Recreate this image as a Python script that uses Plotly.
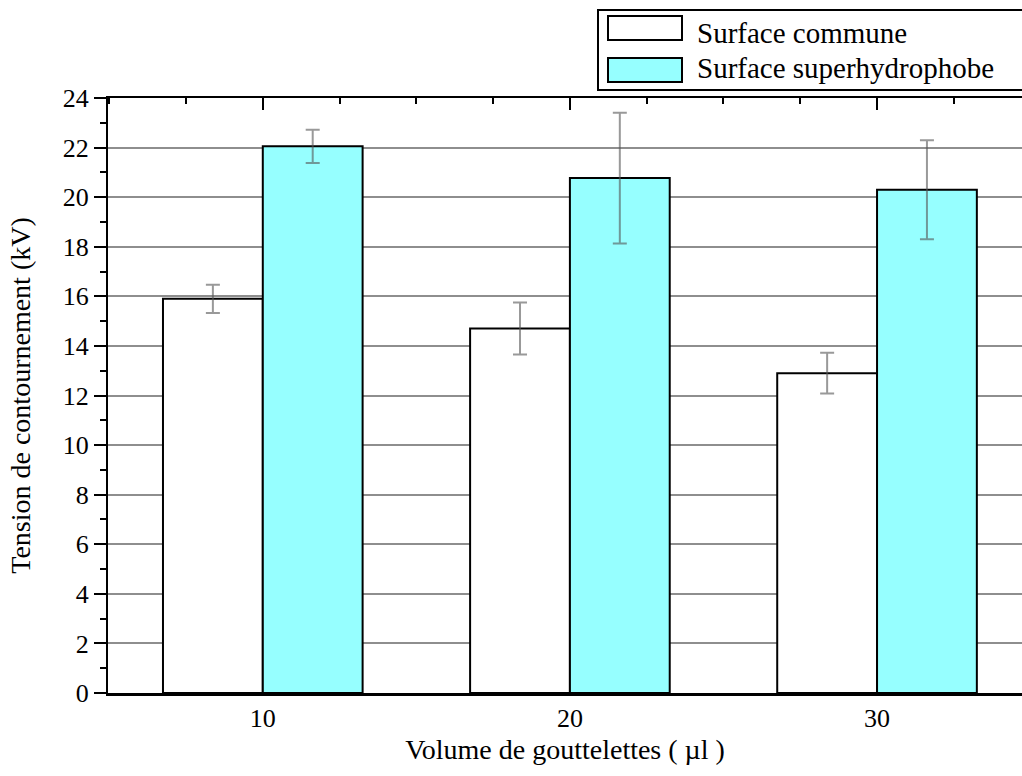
import plotly.graph_objects as go

volumes = ["10", "20", "30"]
series_names = ["Surface commune", "Surface superhydrophobe"]
commune = [15.9, 14.7, 12.9]
commune_err = [0.57, 1.05, 0.82]
superhydro = [22.05, 20.77, 20.3]
superhydro_err = [0.67, 2.64, 2.0]
y_ticks = list(range(0, 25, 2))

W, H = 1022, 776
L, R, T, B = 108, 0, 98, 83
FONT = "Liberation Serif, Times New Roman, serif"
CYAN = "#96FFFF"
ERR = "rgba(85,85,85,0.6)"


def px_x(p):
    return (p - L) / (W - L - R)


def px_y(p):
    return (H - B - p) / (H - T - B)


fig = go.Figure()
fig.add_trace(go.Bar(x=volumes, y=commune, name=series_names[0],
                     marker=dict(color="white", line=dict(color="black", width=2)),
                     error_y=dict(type="data", array=commune_err, color=ERR, thickness=2, width=7)))
fig.add_trace(go.Bar(x=volumes, y=superhydro, name=series_names[1],
                     marker=dict(color=CYAN, line=dict(color="black", width=2)),
                     error_y=dict(type="data", array=superhydro_err, color=ERR, thickness=2, width=7)))
# empty trace so the top axis is drawn
fig.add_trace(go.Scatter(x=[], y=[], xaxis="x2", showlegend=False))

xr = [-0.504, 2.472]
fig.update_layout(
    width=W, height=H, margin=dict(l=L, r=R, t=T, b=B),
    paper_bgcolor="white", plot_bgcolor="white",
    barmode="group", bargap=0.35, bargroupgap=0,
    showlegend=False,
    font=dict(family=FONT, size=26, color="black"),
    xaxis=dict(type="category", range=xr, showline=True, linecolor="black", linewidth=3,
               ticks="", showgrid=False, ticklabelstandoff=0,
               title=dict(text="Volume de gouttelettes ( µl )", standoff=8,
                          font=dict(size=28))),
    xaxis2=dict(overlaying="x", side="top", range=xr, showline=True, linecolor="black",
                linewidth=2, tickmode="linear", tick0=0, dtick=1, ticks="inside",
                ticklen=12, tickwidth=2, tickcolor="black", showticklabels=False,
                showgrid=False, zeroline=False,
                minor=dict(tick0=0, dtick=0.25, ticks="inside", ticklen=6,
                           tickwidth=2, tickcolor="black")),
    yaxis=dict(range=[0, 24], tickvals=y_ticks, ticks="outside", ticklen=12, tickwidth=2,
               tickcolor="black", showline=True, linecolor="black", linewidth=2,
               showgrid=True, gridcolor="#8e8e8e", gridwidth=2, zeroline=False,
               minor=dict(dtick=1, ticks="outside", ticklen=6, tickwidth=2,
                          tickcolor="black", showgrid=False),
               title=dict(text="Tension de contournement (kV)", standoff=24,
                          font=dict(size=28))),
)

# legend box drawn by hand to get the wide swatches
fig.add_shape(type="rect", xref="paper", yref="paper",
              x0=px_x(598), x1=px_x(1030), y0=px_y(90), y1=px_y(10),
              line=dict(color="black", width=2), fillcolor="white")
for name, col, top, mid in zip(series_names, ["white", CYAN], [16, 58], [33, 68]):
    fig.add_shape(type="rect", xref="paper", yref="paper",
                  x0=px_x(608), x1=px_x(682), y0=px_y(top + 24), y1=px_y(top),
                  line=dict(color="black", width=2), fillcolor=col)
    fig.add_annotation(x=px_x(695), y=px_y(mid), xref="paper", yref="paper",
                       text=name, showarrow=False, xanchor="left", yanchor="middle",
                       font=dict(family=FONT, size=29, color="black"))

# page body has an 8px default margin; drop it so the figure fills the window
fig.write_html("out.html", config={"displayModeBar": False},
               post_script="document.body.style.margin='0';")
